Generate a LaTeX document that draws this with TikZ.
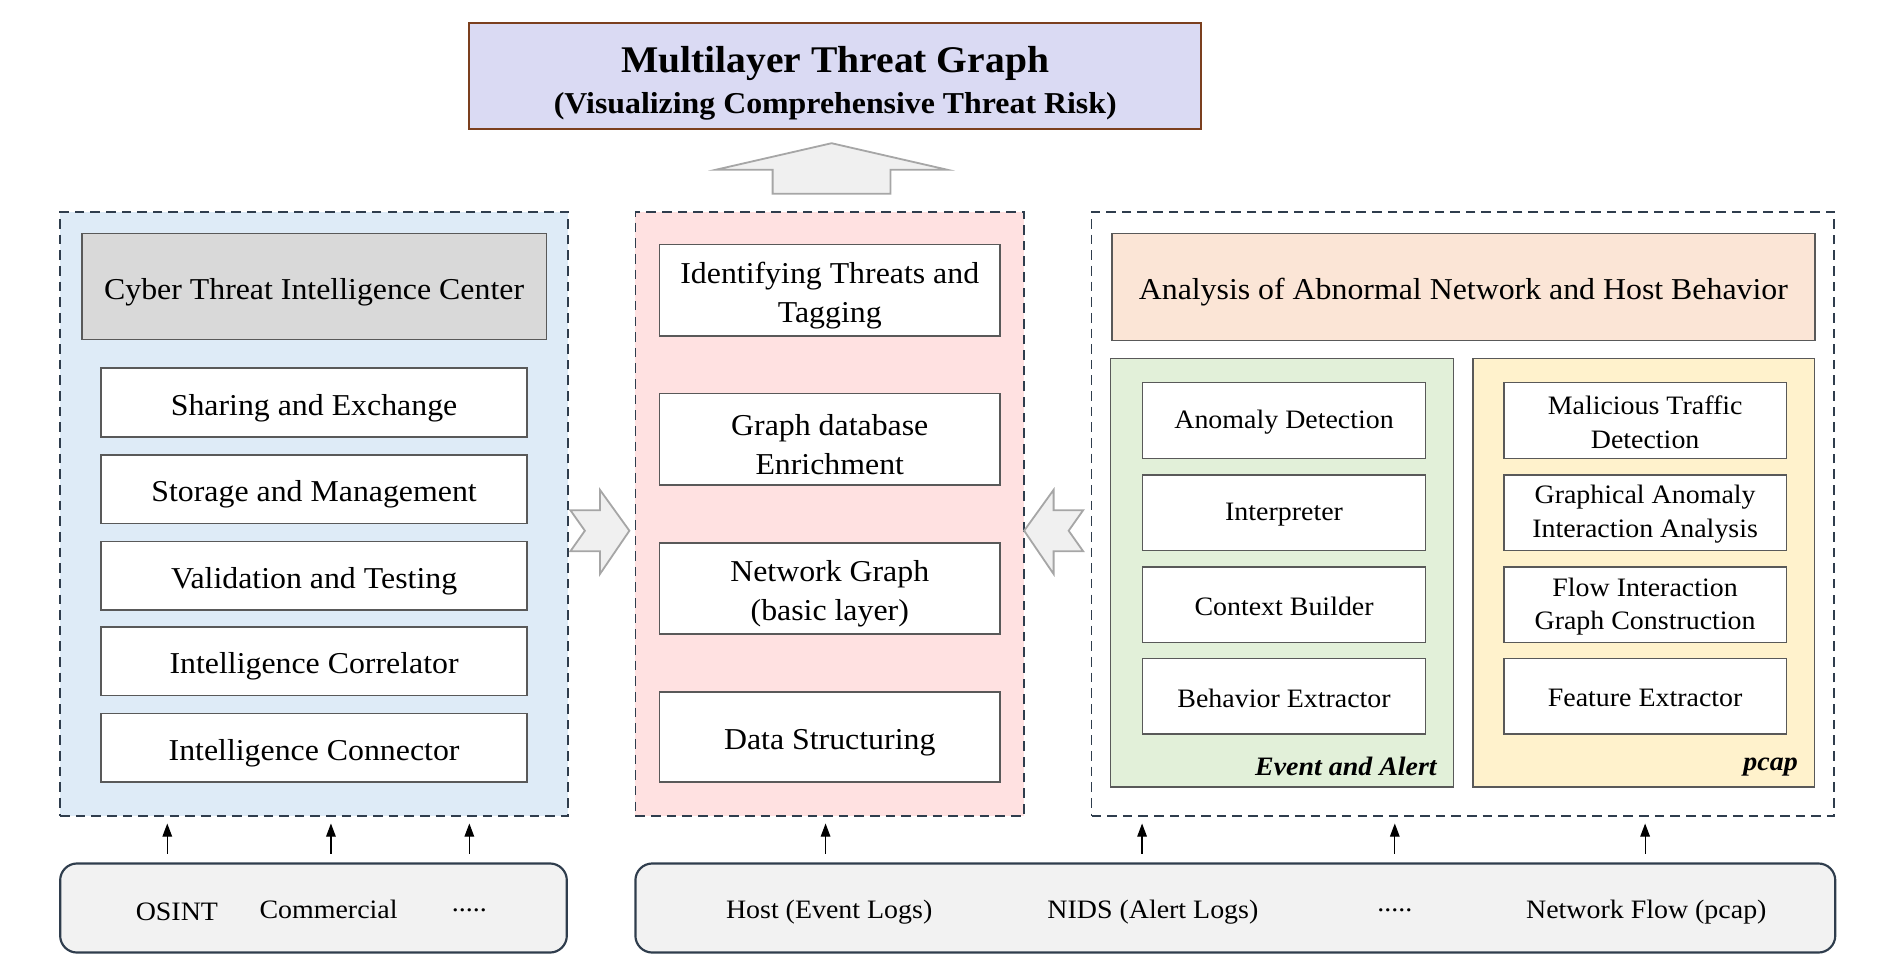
\documentclass[tikz,border=0pt]{standalone}
\usepackage{fontspec}
\setmainfont{Liberation Serif}[FakeStretch=1.05]
\usetikzlibrary{arrows.meta}
\definecolor{titlefill}{HTML}{DADAF3}
\definecolor{titledraw}{HTML}{7B3F1E}
\definecolor{bluefill}{HTML}{DEEBF7}
\definecolor{pinkfill}{HTML}{FFE1E1}
\definecolor{orangefill}{HTML}{FBE5D6}
\definecolor{greenfill}{HTML}{E2F0D9}
\definecolor{yellowfill}{HTML}{FFF2CC}
\definecolor{grayfill}{HTML}{D9D9D9}
\definecolor{srcfill}{HTML}{F2F2F2}
\definecolor{slate}{HTML}{2F3D4D}
\definecolor{boxgray}{HTML}{595959}
\definecolor{arrgray}{HTML}{A6A6A6}
\definecolor{arrfill}{HTML}{F0F0F0}
% box: style, text style, name, x1, y1, x2, y2, text ; text is shifted down by \tdy
\newcommand\rb[8]{\node[#1, minimum width={#6-#4}, minimum height={#7-#5}] (#3) at ({(#4+#6)/2},{(#5+#7)/2}) {};
  \node[#2, inner sep=0pt, align=center] (#3-t) at (#3.center) {#8};}
\begin{document}
\begin{tikzpicture}[x=1pt,y=-1pt,
  container/.style={draw=slate, line width=1.5pt, dash pattern=on 8pt off 5pt, inner sep=0pt},
  plain/.style={draw=boxgray, line width=1.3pt, fill=white, inner sep=0pt},
  bigtxt/.style={font=\fontsize{25.2}{32}\selectfont, yshift=-4.5pt},
  smalltxt/.style={font=\fontsize{22.1}{28}\selectfont, yshift=-1.5pt},
  srcbox/.style={draw=slate, line width=1.8pt, fill=srcfill, rounded corners=14pt, inner sep=0pt},
  srctxt/.style={font=\fontsize{22.1}{26}\selectfont, inner sep=0pt},
  hollow/.style={draw=arrgray, line width=1.5pt, fill=arrfill, line join=miter},
  sa/.style={line width=1pt, -{Triangle[length=11pt,width=8pt]}, shorten <=7pt, shorten >=5.5pt},
  tag/.style={font=\fontsize{22.1}{26}\selectfont\bfseries\itshape, anchor=east, inner sep=0pt}
]
\useasboundingbox (0,0) rectangle (1568,806);
% title
\node[draw=titledraw, line width=1.5pt, fill=titlefill, inner sep=0pt, minimum width=608pt, minimum height=88pt] (title) at (694,63) {};
\node[anchor=base, inner sep=0pt, font=\fontsize{31.3}{35}\selectfont\bfseries] (t1) at (694,60) {Multilayer Threat Graph};
\node[anchor=base, inner sep=0pt, font=\fontsize{25.2}{30}\selectfont\bfseries] (t2) at (694,94) {(Visualizing Comprehensive Threat Risk)};
% up arrow
\draw[hollow] (691,119) -- (787,141) -- (740,141) -- (740,161) -- (642,161) -- (642,141) -- (595,141) -- cycle;
% containers
\node[container, fill=bluefill, minimum width=422pt, minimum height=502pt] (left) at (261,427) {};
\node[container, fill=pinkfill, minimum width=323pt, minimum height=502pt] (mid) at (689.5,427) {};
\node[container, fill=white, minimum width=617pt, minimum height=502pt] (right) at (1215.5,427) {};
% left column
\rb{plain, fill=grayfill}{bigtxt}{cti}{68}{194}{454}{282}{Cyber Threat Intelligence Center}
\rb{plain}{bigtxt}{l1}{84}{306}{438}{363}{Sharing and Exchange}
\rb{plain}{bigtxt}{l2}{84}{378}{438}{435}{Storage and Management}
\rb{plain}{bigtxt}{l3}{84}{450}{438}{507}{Validation and Testing}
\rb{plain}{bigtxt}{l4}{84}{521}{438}{578}{Intelligence Correlator}
\rb{plain}{bigtxt}{l5}{84}{593}{438}{650}{Intelligence Connector}
% middle column
\rb{plain}{bigtxt}{m1}{548}{203}{831}{279}{Identifying Threats and\\Tagging}
\rb{plain}{bigtxt}{m2}{548}{327}{831}{403}{Graph database\\Enrichment}
\rb{plain}{bigtxt}{m3}{548}{451}{831}{527}{Network Graph\\(basic layer)}
\rb{plain}{bigtxt}{m4}{548}{575}{831}{650}{Data Structuring}
% right column
\rb{plain, fill=orangefill}{bigtxt}{ana}{924}{194}{1508}{283}{Analysis of Abnormal Network and Host Behavior}
\node[plain, fill=greenfill, line width=1.1pt, minimum width=285pt, minimum height=356pt] (ev) at (1065.5,476) {};
\node[plain, fill=yellowfill, line width=1.1pt, minimum width=284pt, minimum height=356pt] (pc) at (1366,476) {};
\rb{plain}{smalltxt}{g1}{949.5}{318}{1184.5}{381}{Anomaly Detection}
\rb{plain}{smalltxt}{g2}{949.5}{394.5}{1184.5}{457.5}{Interpreter}
\rb{plain}{smalltxt}{g3}{949.5}{471}{1184.5}{534}{Context Builder}
\rb{plain}{smalltxt}{g4}{949.5}{547}{1184.5}{610}{Behavior Extractor}
\rb{plain}{smalltxt}{y1}{1249.5}{318}{1484.5}{381}{Malicious Traffic\\Detection}
\rb{plain}{smalltxt}{y2}{1249.5}{394.5}{1484.5}{457.5}{Graphical Anomaly\\Interaction Analysis}
\rb{plain}{smalltxt}{y3}{1249.5}{471}{1484.5}{534}{Flow Interaction\\Graph Construction}
\rb{plain}{smalltxt}{y4}{1249.5}{547}{1484.5}{610}{Feature Extractor}
\node[tag] (evl) at (1194,637) {Event and Alert};
\node[tag] (pcl) at (1494,637) {pcap};
% side hollow arrows
\draw[hollow] (523,441) -- (498.5,407) -- (498.5,424) -- (474,424) -- (486,441) -- (474,458) -- (498.5,458) -- (498.5,477) -- cycle;
\draw[hollow] (851,441) -- (875.5,407) -- (875.5,424) -- (900,424) -- (888,441) -- (900,458) -- (875.5,458) -- (875.5,477) -- cycle;
% source boxes
\node[srcbox, minimum width=421pt, minimum height=74pt] (srcL) at (260.5,754.5) {};
\node[srcbox, minimum width=997pt, minimum height=74pt] (srcR) at (1026.5,754.5) {};
\node[srctxt] (s1) at (147,758) {OSINT};
\node[srctxt] (s2) at (273,756) {Commercial};
\node[srctxt] (s3) at (390,756) {.....};
\node[srctxt] (s4) at (689,758) {Host (Event Logs)};
\node[srctxt] (s5) at (958,758) {NIDS (Alert Logs)};
\node[srctxt] (s6) at (1159,756) {.....};
\node[srctxt] (s7) at (1368,758) {Network Flow (pcap)};
% small arrows
\foreach \xx in {139,275,390} \draw[sa] (srcL.north -| \xx,0) -- (left.south -| \xx,0);
\draw[sa] (srcR.north -| 686,0) -- (mid.south -| 686,0);
\foreach \xx in {949,1159,1367} \draw[sa] (srcR.north -| \xx,0) -- (right.south -| \xx,0);
\end{tikzpicture}
\end{document}
